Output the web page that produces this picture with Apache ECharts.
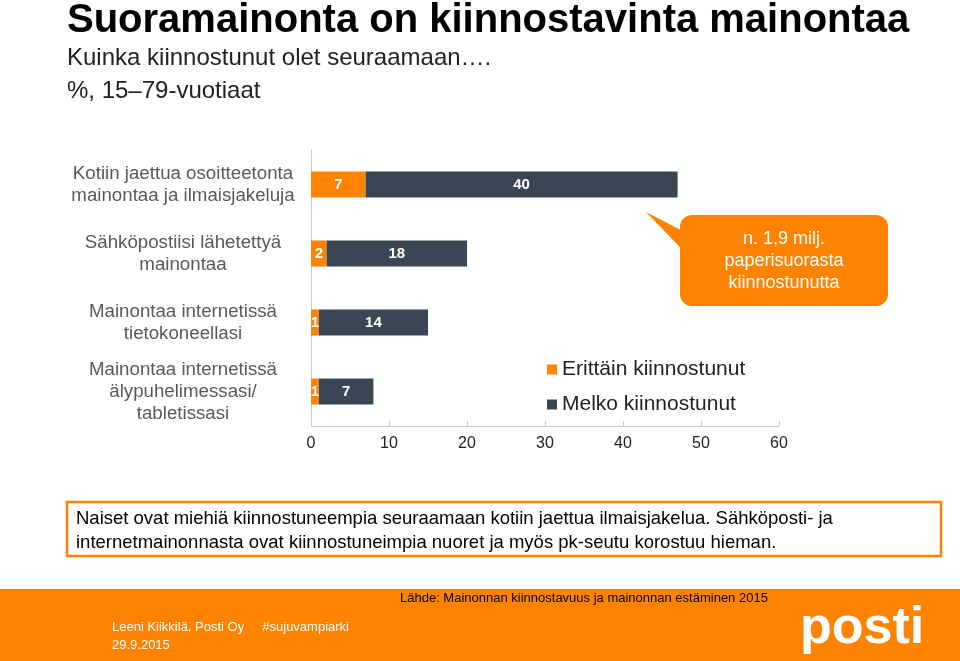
<!DOCTYPE html>
<html><head><meta charset="utf-8">
<script src="https://cdn.jsdelivr.net/npm/echarts@6/dist/echarts.min.js"></script>
<style>html,body{margin:0;padding:0;background:#fff}#c{width:960px;height:661px}</style>
</head><body><div id="c"></div>
<script>
const categories = [
  "Kotiin jaettua osoitteetonta\nmainontaa ja ilmaisjakeluja",
  "Sähköpostiisi lähetettyä\nmainontaa",
  "Mainontaa internetissä\ntietokoneellasi",
  "Mainontaa internetissä\nälypuhelimessasi/\ntabletissasi"
];
const seriesNames = ["Erittäin kiinnostunut", "Melko kiinnostunut"];
const veryInterested = [7, 2, 1, 1];
const fairlyInterested = [40, 18, 14, 7];
const xTicks = [0, 10, 20, 30, 40, 50, 60];

const ORANGE = '#FF8200';
const DARK = '#394755';
const FONT = '"Liberation Sans", Arial, sans-serif';

const chart = echarts.init(document.getElementById('c'), null, {renderer: 'canvas'});
const option = {
  animation: false,
  textStyle: {fontFamily: FONT},
  grid: {left: 311, right: 181, top: 150, bottom: 235, containLabel: false},
  xAxis: {
    type: 'value', min: xTicks[0], max: xTicks[xTicks.length - 1], interval: 10,
    axisLine: {show: true, lineStyle: {color: '#c8c8c8', width: 1}},
    axisTick: {show: true, inside: true, length: 5, lineStyle: {color: '#c8c8c8'}},
    splitLine: {show: false},
    axisLabel: {color: '#222', fontSize: 16, margin: 10, fontFamily: FONT}
  },
  yAxis: {
    type: 'category', inverse: true, data: categories,
    axisLine: {show: true, lineStyle: {color: '#c8c8c8', width: 1}},
    axisTick: {show: false},
    axisLabel: {color: '#595959', fontSize: 18.7, lineHeight: 22, align: 'center', margin: 128, fontFamily: FONT}
  },
  legend: {
    orient: 'vertical', left: 542, top: 354, itemWidth: 10, itemHeight: 10, itemGap: 14,
    icon: 'rect',
    textStyle: {color: '#222', fontSize: 21, fontFamily: FONT},
    data: seriesNames
  },
  series: [
    {
      name: seriesNames[0], type: 'bar', stack: 's', barWidth: 26, data: veryInterested,
      itemStyle: {color: ORANGE},
      label: {show: true, position: 'inside', color: '#fff', fontWeight: 'bold', fontSize: 15, fontFamily: FONT}
    },
    {
      name: seriesNames[1], type: 'bar', stack: 's', barWidth: 26, data: fairlyInterested,
      itemStyle: {color: DARK},
      label: {show: true, position: 'inside', color: '#fff', fontWeight: 'bold', fontSize: 15, fontFamily: FONT}
    }
  ],
  graphic: [
    {type: 'text', left: 67, top: 1, style: {text: 'Suoramainonta on kiinnostavinta mainontaa', font: 'bold 40px ' + FONT, fill: '#000'}},
    {type: 'text', left: 67, top: 46, style: {text: 'Kuinka kiinnostunut olet seuraamaan\u2026.', font: '24px ' + FONT, fill: '#222'}},
    {type: 'text', left: 67, top: 79, style: {text: '%, 15\u201379-vuotiaat', font: '24px ' + FONT, fill: '#222'}},
    // callout
    {type: 'polygon', shape: {points: [[646, 212], [700, 240], [700, 268]]}, style: {fill: ORANGE}},
    {type: 'rect', shape: {x: 680, y: 215, width: 208, height: 91, r: 12}, style: {fill: ORANGE}},
    {type: 'text', x: 784, y: 261, style: {text: 'n. 1,9 milj.\npaperisuorasta\nkiinnostunutta', font: '18px ' + FONT, fill: '#fff', align: 'center', verticalAlign: 'middle', lineHeight: 22}},
    // note box
    {type: 'rect', shape: {x: 67, y: 502, width: 874, height: 54}, style: {fill: '#fff', stroke: ORANGE, lineWidth: 2.5}},
    {type: 'text', left: 76, top: 507, style: {text: 'Naiset ovat miehiä kiinnostuneempia seuraamaan kotiin jaettua ilmaisjakelua. Sähköposti- ja\ninternetmainonnasta ovat kiinnostuneimpia nuoret ja myös pk-seutu korostuu hieman.', font: '18.5px ' + FONT, fill: '#000', lineHeight: 24}},
    // footer
    {type: 'rect', shape: {x: 0, y: 589, width: 960, height: 72}, style: {fill: ORANGE}},
    {type: 'text', left: 400, top: 592, style: {text: 'Lähde: Mainonnan kiinnostavuus ja mainonnan estäminen 2015', font: '13px ' + FONT, fill: '#000'}},
    {type: 'text', left: 112, top: 618, style: {text: 'Leeni Kiikkilä, Posti Oy     #sujuvampiarki\n29.9.2015', font: '13px ' + FONT, fill: '#fff', lineHeight: 18}},
    {type: 'text', left: 800, top: 603, style: {text: 'posti', font: 'bold 52px ' + FONT, fill: '#fff'}}
  ]
};
chart.setOption(option);
</script></body></html>
